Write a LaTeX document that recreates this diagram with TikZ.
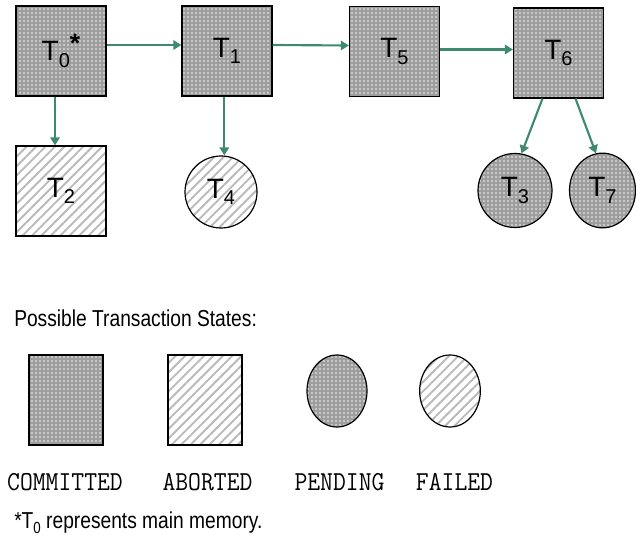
\documentclass[tikz,border=0pt]{standalone}
\usepackage{fontspec}
\setmainfont{Liberation Sans}
\usetikzlibrary{arrows.meta,patterns.meta,shapes.geometric}
\definecolor{arrowgreen}{RGB}{62,138,110}
\definecolor{boxgray}{RGB}{158,158,158}
\definecolor{stripegray}{RGB}{185,185,185}
\newcommand{\tlabel}[1]{{\fontsize{21}{21}\selectfont T}\raisebox{-5pt}{\fontsize{15}{15}\selectfont #1}}
\tikzset{
  committed/.style={draw=black, line width=0.9pt, preaction={fill=boxgray},
    preaction={pattern={Dots[distance=3pt,radius=0.6pt]}, pattern color=white!90!boxgray}},
  aborted/.style={draw=black, line width=0.9pt, preaction={fill=white},
    preaction={pattern={Lines[angle=45,distance=5pt,line width=1.4pt]}, pattern color=stripegray}},
  sqnode/.style={rectangle, minimum width=67.5pt, minimum height=67.5pt, inner sep=0pt},
  rnd/.style={ellipse, inner sep=0pt},
  link/.style={draw=arrowgreen, line width=1.6pt, -{Triangle[length=6pt,width=7pt]}},
  legendlabel/.style={font=\ttfamily\fontsize{18.7}{18.7}\selectfont, yscale=1.1, inner sep=0pt},
  sanstext/.style={anchor=west, inner sep=0pt, yscale=1.2, font=\fontsize{14.4}{14.4}\selectfont},
}
\begin{document}
\begin{tikzpicture}[x=0.75pt,y=-0.75pt]
\useasboundingbox (0,0) rectangle (636,541);
% tree nodes
\node[sqnode, committed] (T0) at (61,51) {\tlabel{0}\raisebox{6pt}{\fontsize{20}{20}\selectfont\bfseries *}};
\node[sqnode, committed] (T1) at (227,51) {\tlabel{1}};
\node[sqnode, committed] (T5) at (394.5,51.5) {\tlabel{5}};
\node[sqnode, committed] (T6) at (558.5,53) {\tlabel{6}};
\node[sqnode, aborted] (T2) at (61,191) {\tlabel{2}};
\node[rnd, aborted, minimum width=54pt, minimum height=54pt] (T4) at (221,192) {\tlabel{4}};
\node[rnd, committed, minimum width=55.5pt, minimum height=55.5pt] (T3) at (515,190.5) {\tlabel{3}};
\node[rnd, committed, minimum width=49.5pt, minimum height=56pt] (T7) at (602.5,190.5) {\tlabel{7}};
% connectors
\draw[link] ([yshift=4.5pt]T0.east) -- ([yshift=4.5pt]T1.west);
\draw[link] ([yshift=4.5pt]T1.east) -- ([yshift=4.5pt]T5.west);
\draw[link] ([yshift=1.5pt]T5.east) -- ([yshift=1.5pt]T5.east -| T6.west);
\draw[link] ([xshift=-4.5pt]T0.south) -- ([xshift=-4.5pt]T2.north);
\draw[link] ([xshift=-2pt]T1.south) -- ([xshift=-2pt]T1.south |- T4.north);
\draw[link] ([xshift=-12pt]T6.south) -- (T3.80);
\draw[link] ([xshift=12.75pt]T6.south) -- (T7.100);
% legend
\node[sanstext] (title) at (14,318) {Possible Transaction States:};
\node[rectangle, committed, minimum width=55.5pt, minimum height=67.5pt, inner sep=0pt] (Lc) at (66,400) {};
\node[rectangle, aborted, minimum width=55.5pt, minimum height=67.5pt, inner sep=0pt] (La) at (205,400) {};
\node[rnd, committed, minimum width=45pt, minimum height=54pt] (Lp) at (337,391) {};
\node[rnd, aborted, minimum width=45.5pt, minimum height=54pt] (Lf) at (450,391) {};
\node[legendlabel] (lc) at (65,482) {COMMITTED};
\node[legendlabel] (la) at (207.5,482) {ABORTED};
\node[legendlabel] (lp) at (339.5,482) {PENDING};
\node[legendlabel] (lf) at (454.5,482) {FAILED};
\node[sanstext] (note) at (14,523) {*T\raisebox{-3pt}{\fontsize{10}{10}\selectfont 0} represents main memory.};
\end{tikzpicture}
\end{document}
